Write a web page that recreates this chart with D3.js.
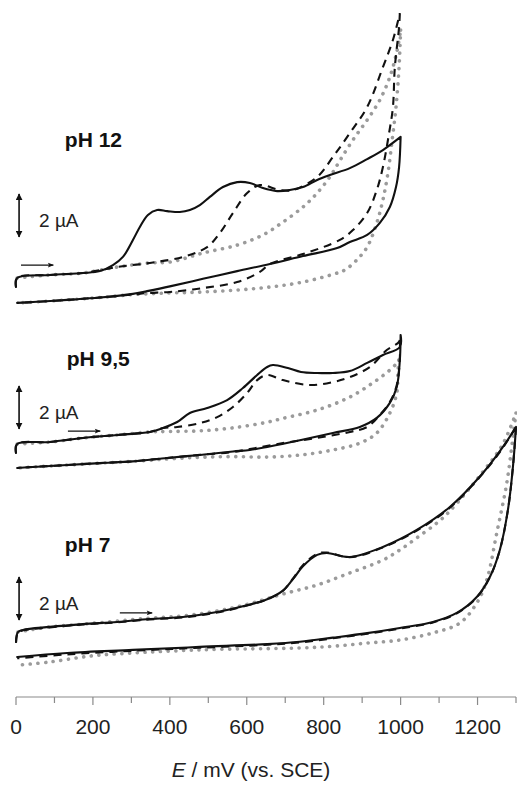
<!DOCTYPE html>
<html>
<head>
<meta charset="utf-8">
<script src="https://cdn.jsdelivr.net/npm/d3@7"></script>
<style>
  html, body { margin: 0; padding: 0; background: #fff; }
  svg { display: block; }
  text { font-family: "Liberation Sans", Arial, sans-serif; }
</style>
</head>
<body>
<svg id="chart" width="517" height="789"></svg>
<script>
// Potential axis (mV vs. SCE)
const potentialTicks = [0, 200, 400, 600, 800, 1000, 1200];
const minorTicks = [100, 300, 500, 700, 900, 1100, 1300];
const panelLabels = ["pH 12", "pH 9,5", "pH 7"];
// vertical offset of each voltammogram in the stack (µA)
const panelOffsets = [19.0, 11.2, 2.5];
const scaleBarBase = [2.4, 1.27, 1.08];      // lower end of each 2 µA bar (µA, panel frame)
const scanArrowStart = [13, 135, 270];       // start potential of the scan-direction arrow (mV)
const scanArrowLevel = [1.09, 1.17, 1.41];   // its current level (µA, panel frame)

// ---- pH 12 : [E / mV, I / µA] ----
const ph12SolidForward = [[0,0.07],[3,0.49],[88,0.63],[174,0.72],[218,0.81],[252,1.09],[278,1.47],[304,2.26],[322,2.86],[343,3.42],[367,3.65],[393,3.6],[426,3.56],[452,3.65],[478,3.88],[504,4.26],[538,4.72],[575,4.95],[608,4.91],[642,4.67],[679,4.53],[712,4.58],[746,4.72],[783,5.05],[816,5.28],[868,5.6],[913,6.02],[954,6.44],[1000,7.05]];
const ph12SolidReverse = [[1000,7.05],[996,5.65],[988,4.72],[972,3.79],[946,3.05],[913,2.49],[868,2.16],[835,1.88],[746,1.51],[660,1.14],[575,0.81],[486,0.45],[400,0.1],[341,-0.12],[304,-0.25],[218,-0.42],[133,-0.53],[44,-0.63],[3,-0.67]];
const ph12DashForward = [[0,0.07],[3,0.49],[88,0.63],[174,0.72],[263,1.0],[348,1.19],[434,1.47],[497,1.93],[530,2.58],[564,3.51],[601,4.44],[634,4.81],[686,4.58],[720,4.58],[783,5.19],[824,6.12],[868,7.23],[913,8.44],[954,10.3],[980,11.56],[998,12.81]];
const ph12DashReverse = [[998,12.81],[996,12.16],[985,10.3],[980,8.44],[970,7.23],[954,5.65],[938,4.58],[913,3.51],[876,2.72],[842,2.26],[746,1.6],[660,1.14],[634,0.77],[575,0.3],[486,0.02],[400,-0.16],[341,-0.21],[304,-0.28],[218,-0.42],[133,-0.53],[44,-0.63],[3,-0.67]];
const ph12DotForward = [[3,0.49],[88,0.63],[174,0.72],[263,1.0],[348,1.19],[400,1.23],[486,1.65],[575,2.02],[642,2.49],[694,3.09],[746,3.79],[783,4.44],[816,5.19],[842,5.95],[876,6.91],[913,7.84],[946,8.77],[972,9.84],[990,11.0],[1000,12.02]];
const ph12DotReverse = [[1000,12.02],[996,10.3],[988,8.44],[978,6.91],[967,5.37],[954,4.12],[938,3.05],[913,1.93],[886,1.33],[855,0.86],[835,0.72],[746,0.3],[660,0.07],[575,-0.07],[486,-0.16],[400,-0.21],[304,-0.28],[218,-0.42],[133,-0.53],[44,-0.63],[3,-0.67]];

// ---- pH 9,5 ----
const ph95SolidForward = [[0,0.15],[3,0.57],[88,0.66],[174,0.85],[263,0.99],[348,1.13],[382,1.31],[419,1.59],[452,2.01],[497,2.24],[549,2.61],[590,3.17],[627,3.78],[653,4.15],[668,4.24],[707,4.1],[741,3.92],[783,3.87],[824,3.87],[868,3.96],[913,4.34],[954,4.71],[998,5.08],[1000,5.64]];
const ph95SolidReverse = [[1000,5.64],[998,4.47],[990,3.22],[972,2.48],[938,1.78],[894,1.36],[824,1.08],[741,0.75],[653,0.43],[608,0.29],[564,0.22],[478,0.06],[393,-0.08],[304,-0.24],[218,-0.32],[133,-0.41],[44,-0.5],[3,-0.55]];
const ph95DashForward = [[0,0.15],[3,0.57],[88,0.66],[174,0.85],[263,0.99],[348,1.13],[382,1.31],[419,1.36],[478,1.54],[523,1.82],[564,2.29],[601,2.94],[627,3.54],[653,3.78],[694,3.54],[764,3.31],[824,3.45],[868,3.68],[920,4.15],[964,4.94],[993,5.27],[998,5.4]];
const ph95DashReverse = [[998,5.4],[998,4.57],[990,3.31],[972,2.52],[946,1.92],[913,1.36],[868,1.13],[783,0.85],[694,0.61],[608,0.33],[564,0.2],[478,0.06],[393,-0.08],[304,-0.24],[218,-0.32],[133,-0.41],[44,-0.5],[3,-0.55]];
const ph95DotForward = [[3,0.57],[88,0.66],[174,0.85],[263,0.99],[348,1.13],[400,1.15],[478,1.18],[564,1.32],[653,1.58],[694,1.76],[783,2.15],[868,2.75],[938,3.54],[972,4.01],[990,4.33],[995,4.47]];
const ph95DotReverse = [[995,4.47],[993,3.87],[990,2.94],[972,2.01],[938,1.08],[894,0.61],[824,0.29],[741,0.06],[653,-0.04],[564,-0.02],[478,-0.05],[393,-0.13],[304,-0.24],[218,-0.32],[133,-0.41],[44,-0.5],[3,-0.55]];

// ---- pH 7 ----
const ph7SolidForward = [[0,0.06],[5,0.52],[18,0.62],[88,0.76],[174,0.89],[263,0.99],[348,1.13],[434,1.22],[523,1.45],[608,1.8],[653,2.05],[694,2.45],[720,2.98],[746,3.58],[783,4.11],[808,4.2],[868,4.01],[954,4.48],[1042,5.27],[1128,6.34],[1214,7.92],[1266,9.13],[1300,10.06]];
const ph7SolidReverse = [[1300,10.06],[1292,8.2],[1279,6.2],[1258,4.34],[1232,3.08],[1198,2.15],[1146,1.41],[1084,0.99],[998,0.71],[913,0.47],[824,0.26],[738,0.07],[653,-0.04],[478,-0.17],[304,-0.31],[133,-0.45],[3,-0.64]];
const ph7DashForward = [[0,0.02],[5,0.5],[18,0.6],[88,0.74],[174,0.87],[263,0.97],[348,1.11],[434,1.2],[523,1.43],[608,1.79],[653,2.04],[694,2.44],[720,3.0],[746,3.63],[783,4.16],[808,4.22],[868,4.0],[954,4.46],[1042,5.24],[1128,6.3],[1214,7.9],[1266,9.1],[1300,10.06]];
const ph7DashReverse = [[1300,10.06],[1292,8.2],[1279,6.2],[1258,4.34],[1232,3.07],[1198,2.13],[1146,1.39],[1084,0.97],[998,0.68],[913,0.44],[824,0.23],[738,0.04],[653,-0.07],[478,-0.21],[304,-0.35],[133,-0.52],[3,-0.7]];
const ph7DotForward = [[5,0.52],[88,0.76],[174,0.89],[263,1.03],[348,1.17],[434,1.27],[523,1.5],[608,1.84],[694,2.29],[783,2.71],[868,3.27],[954,3.87],[998,4.34],[1042,4.9],[1094,5.59],[1128,6.15],[1214,7.97],[1266,9.27],[1300,10.71]];
const ph7DotReverse = [[1300,10.71],[1292,9.59],[1276,7.45],[1250,5.13],[1224,2.94],[1198,1.87],[1154,0.94],[1084,0.48],[998,0.15],[913,0.01],[824,-0.14],[738,-0.22],[478,-0.31],[218,-0.55],[174,-0.64],[88,-0.87],[10,-1.01]];

const panels = [
  { dot: [ph12DotForward, ph12DotReverse], dash: [ph12DashForward, ph12DashReverse], solid: [ph12SolidForward, ph12SolidReverse] },
  { dot: [ph95DotForward, ph95DotReverse], dash: [ph95DashForward, ph95DashReverse], solid: [ph95SolidForward, ph95SolidReverse] },
  { dot: [ph7DotForward, ph7DotReverse],   dash: [ph7DashForward, ph7DashReverse],   solid: [ph7SolidForward, ph7SolidReverse] }
];

const svg = d3.select("#chart");
const x = d3.scaleLinear().domain([0, 1300]).range([16, 516]);
const y = d3.scaleLinear().domain([0, 32.42]).range([697, 0]);

const styles = {
  dot:   { stroke: "#9b9b9b", width: 3.6, dash: "0.1 7.6", cap: "round" },
  dash:  { stroke: "#111", width: 2.1, dash: "8 6", cap: "butt" },
  solid: { stroke: "#111", width: 2.1, dash: null, cap: "round" }
};

// arrowheads
const defs = svg.append("defs");
defs.append("marker").attr("id", "head").attr("viewBox", "0 0 10 10")
  .attr("refX", 9).attr("refY", 5).attr("markerWidth", 7).attr("markerHeight", 7)
  .attr("markerUnits", "userSpaceOnUse").attr("orient", "auto-start-reverse")
  .append("path").attr("d", "M0,0 L10,5 L0,10 Z").attr("fill", "#111");
defs.append("marker").attr("id", "thin").attr("viewBox", "0 0 10 10")
  .attr("refX", 9).attr("refY", 5).attr("markerWidth", 9).attr("markerHeight", 6)
  .attr("markerUnits", "userSpaceOnUse").attr("orient", "auto")
  .append("path").attr("d", "M0,1 L10,5 L0,9 L2,5 Z").attr("fill", "#111");

panels.forEach((p, i) => {
  const off = panelOffsets[i];
  const line = d3.line()
    .x(d => x(d[0]))
    .y(d => y(d[1] + off))
    .curve(d3.curveCatmullRom.alpha(0.5));
  const g = svg.append("g").attr("class", "panel");
  ["dot", "dash", "solid"].forEach(kind => {
    const s = styles[kind];
    const d = p[kind].map(seg => line(seg)).join("");
    g.append("path")
      .attr("d", d)
      .attr("fill", "none")
      .attr("stroke", s.stroke)
      .attr("stroke-width", s.width)
      .attr("stroke-linecap", s.cap)
      .attr("stroke-linejoin", "round")
      .attr("stroke-dasharray", s.dash);
  });

  // panel label
  const labelLevel = [6.58, 4.2, 4.25][i];
  const labelE = [127, 132, 127][i];
  g.append("text")
    .attr("x", x(labelE)).attr("y", y(labelLevel + off))
    .attr("font-size", 21).attr("font-weight", "bold").attr("fill", "#111")
    .text(panelLabels[i]);

  // 2 µA scale bar
  const b0 = scaleBarBase[i];
  g.append("line")
    .attr("x1", x(8)).attr("x2", x(8))
    .attr("y1", y(b0 + off)).attr("y2", y(b0 + 2 + off))
    .attr("stroke", "#111").attr("stroke-width", 1.6)
    .attr("marker-start", "url(#head)").attr("marker-end", "url(#head)");
  g.append("text")
    .attr("x", x(60)).attr("y", y(b0 + 0.45 + off))
    .attr("font-size", 19).attr("fill", "#222")
    .text("2 \u00B5A");

  // scan direction arrow
  const a0 = scanArrowStart[i];
  g.append("line")
    .attr("x1", x(a0)).attr("x2", x(a0 + 84))
    .attr("y1", y(scanArrowLevel[i] + off)).attr("y2", y(scanArrowLevel[i] + off))
    .attr("stroke", "#111").attr("stroke-width", 1.3)
    .attr("marker-end", "url(#thin)");
});

// x axis
const axisY = y(0);
const ax = svg.append("g").attr("class", "x-axis");
ax.append("line")
  .attr("x1", x(0)).attr("x2", x(1300))
  .attr("y1", axisY).attr("y2", axisY)
  .attr("stroke", "#8a8a8a").attr("stroke-width", 1.2);
ax.selectAll("line.major").data(potentialTicks).join("line")
  .attr("class", "major")
  .attr("x1", d => x(d)).attr("x2", d => x(d))
  .attr("y1", axisY).attr("y2", axisY + 8)
  .attr("stroke", "#8a8a8a").attr("stroke-width", 1.2);
ax.selectAll("line.minor").data(minorTicks).join("line")
  .attr("class", "minor")
  .attr("x1", d => x(d)).attr("x2", d => x(d))
  .attr("y1", axisY).attr("y2", axisY + 6)
  .attr("stroke", "#8a8a8a").attr("stroke-width", 1.2);
ax.selectAll("text.tick").data(potentialTicks).join("text")
  .attr("class", "tick")
  .attr("x", d => x(d)).attr("y", axisY + 37)
  .attr("text-anchor", "middle")
  .attr("font-size", 21).attr("fill", "#222")
  .text(d => d);

const title = svg.append("text")
  .attr("x", 251).attr("y", axisY + 80)
  .attr("text-anchor", "middle")
  .attr("font-size", 21).attr("fill", "#222");
title.append("tspan").attr("font-style", "italic").text("E");
title.append("tspan").text(" / mV (vs. SCE)");
</script>
</body>
</html>
